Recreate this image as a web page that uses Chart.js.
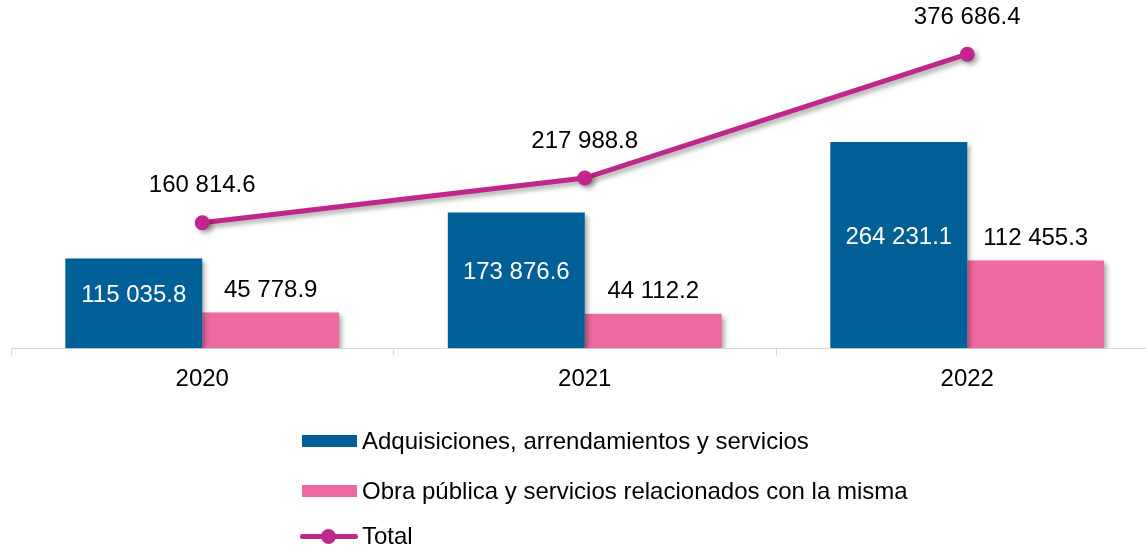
<!DOCTYPE html>
<html>
<head>
<meta charset="utf-8">
<script src="https://cdn.jsdelivr.net/npm/chart.js@4"></script>
<style>
  body { margin: 0; overflow: hidden; background: #fff; font-family: "Liberation Sans", Arial, sans-serif; }
  #wrap { position: relative; width: 1146px; height: 546px; overflow: hidden; }
  #chartCanvas { position: absolute; left: 0; top: 0; }
  #legend { position: absolute; left: 300px; top: 0; font-size: 24px; color: #000; }
  .item { position: absolute; left: 0; height: 30px; white-space: nowrap; display: flex; align-items: center; }
  .box { width: 55px; height: 12px; margin-left: 2px; margin-right: 5px; }
  .lineMark { position: relative; width: 58px; height: 15px; margin-right: 4px; }
  .lineMark .bar { position: absolute; left: 0; right: 0; top: 5px; height: 5px; border-radius: 3px; }
  .lineMark .dot { position: absolute; left: 21px; top: 0; width: 15px; height: 15px; border-radius: 50%; }
</style>
</head>
<body>
<div id="wrap">
  <canvas id="chartCanvas" width="1166" height="546"></canvas>
  <div id="legend"></div>
</div>
<script>
const years = ['2020', '2021', '2022'];
const adquisiciones = [115035.8, 173876.6, 264231.1];
const obraPublica = [45778.9, 44112.2, 112455.3];
const total = [160814.6, 217988.8, 376686.4];

const blue = '#005f96';
const pink = '#ec69a1';
const magenta = '#c0268b';

function fmt(v) {
  const parts = v.toFixed(1).split('.');
  return parts[0].replace(/\B(?=(\d{3})+(?!\d))/g, ' ') + '.' + parts[1];
}

// drop shadow under bars and line
const shadowPlugin = {
  id: 'shadow',
  beforeDatasetDraw(chart) {
    const ctx = chart.ctx;
    ctx.save();
    ctx.shadowColor = 'rgba(0,0,0,0.35)';
    ctx.shadowBlur = 5;
    ctx.shadowOffsetX = 3;
    ctx.shadowOffsetY = 3;
  },
  afterDatasetDraw(chart) {
    chart.ctx.restore();
  }
};

// value labels
const labelPlugin = {
  id: 'valueLabels',
  afterDatasetsDraw(chart) {
    const ctx = chart.ctx;
    ctx.save();
    ctx.font = '24px "Liberation Sans", Arial, sans-serif';
    ctx.textAlign = 'center';
    ctx.textBaseline = 'middle';
    chart.data.datasets.forEach((ds, i) => {
      const meta = chart.getDatasetMeta(i);
      meta.data.forEach((el, j) => {
        const v = ds.data[j];
        if (i === 0) {
          ctx.fillStyle = '#fff';
          ctx.fillText(fmt(v), el.x, (el.y + el.base) / 2 - 8);
        } else if (i === 1) {
          ctx.fillStyle = '#000';
          ctx.fillText(fmt(v), el.x, el.y - 22);
        } else {
          ctx.fillStyle = '#000';
          ctx.fillText(fmt(v), el.x, el.y - 37);
        }
      });
    });
    ctx.restore();
  }
};

const ctx = document.getElementById('chartCanvas').getContext('2d');
const chart = new Chart(ctx, {
  type: 'bar',
  data: {
    labels: years,
    datasets: [
      {
        label: 'Adquisiciones, arrendamientos y servicios',
        data: adquisiciones,
        backgroundColor: blue,
        order: 2,
        barPercentage: 1,
        categoryPercentage: 0.716
      },
      {
        label: 'Obra pública y servicios relacionados con la misma',
        data: obraPublica,
        backgroundColor: pink,
        order: 2,
        barPercentage: 1,
        categoryPercentage: 0.716
      },
      {
        type: 'line',
        label: 'Total',
        data: total,
        borderColor: magenta,
        backgroundColor: magenta,
        borderWidth: 5,
        pointRadius: 7.5,
        pointBorderWidth: 0,
        order: 1
      }
    ]
  },
  options: {
    responsive: false,
    animation: false,
    layout: { padding: { left: 11, right: 3, top: 36, bottom: 142 } },
    plugins: {
      legend: { display: false },
      tooltip: { enabled: false }
    },
    scales: {
      y: { display: false, min: 0, max: 400000 },
      x: {
        grid: { drawOnChartArea: false, color: '#d9d9d9', tickLength: 7, lineWidth: 1 },
        border: { color: '#d9d9d9' },
        ticks: { color: '#000', padding: 10, font: { family: '"Liberation Sans", Arial, sans-serif', size: 24 } }
      }
    }
  },
  plugins: [shadowPlugin, labelPlugin]
});

// legend in a vertical list under the chart
const legend = document.getElementById('legend');
const rows = [441, 491, 536];
chart.data.datasets.forEach((ds, i) => {
  const item = document.createElement('div');
  item.className = 'item';
  item.style.top = (rows[i] - 15) + 'px';
  if (ds.type === 'line') {
    item.innerHTML = '<div class="lineMark"><div class="bar" style="background:' + ds.borderColor +
      '"></div><div class="dot" style="background:' + ds.borderColor + '"></div></div>';
  } else {
    item.innerHTML = '<div class="box" style="background:' + ds.backgroundColor + '"></div>';
  }
  const txt = document.createElement('span');
  txt.textContent = ds.label;
  item.appendChild(txt);
  legend.appendChild(item);
});
</script>
</body>
</html>
